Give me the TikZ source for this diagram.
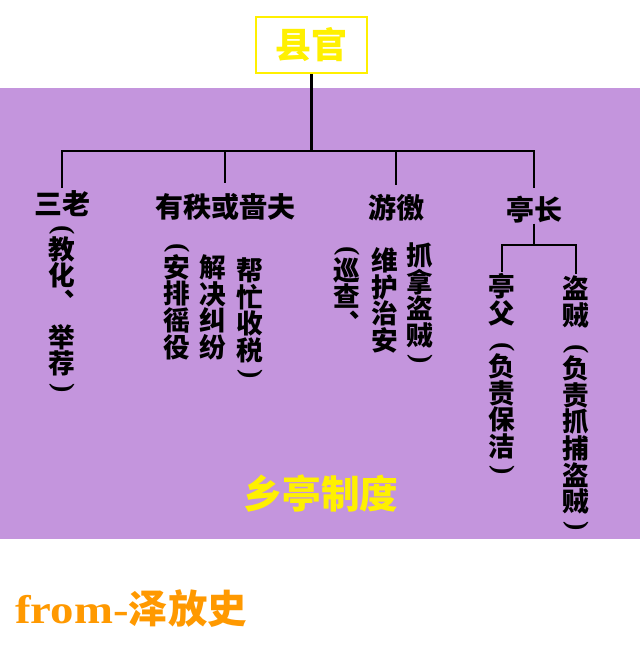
\documentclass[tikz,border=0pt]{standalone}
\usepackage{graphicx}
\usepackage{fontspec}
\newfontfamily\cjk{Noto Sans CJK SC}
\newfontfamily\latinb{Liberation Serif}[FakeStretch=1.17]
\newfontfamily\parenf{Liberation Serif}
\definecolor{bandpurple}{RGB}{196,149,221}
\definecolor{titleyellow}{RGB}{255,240,0}
\definecolor{srcorange}{RGB}{255,153,0}
% vertical parentheses (rotated), opening sits low in its cell, closing sits high
\newcommand\LP{\raisebox{0.27em}{\rotatebox{-90}{\parenf\bfseries\fontsize{21pt}{21pt}\selectfont(}}}
\newcommand\RP{\raisebox{0.65em}{\rotatebox{-90}{\parenf\bfseries\fontsize{21pt}{21pt}\selectfont)}}}
\ExplSyntaxOn
\NewDocumentCommand\vcol{m}{
  \vbox{\offinterlineskip
    \tl_map_inline:nn {#1} { \hbox to 1em {\hss\raisebox{0pt}[0.88em][0.12em]{##1}\hss} }
  }
}
\ExplSyntaxOff
\tikzset{
  conn/.style={line width=1.9pt, black},
  vt/.style={inner sep=0pt, outer sep=0pt, anchor=north, text=black,
    font={\cjk\bfseries\fontsize{20pt}{20pt}\selectfont}},
  head/.style={inner sep=0pt, outer sep=0pt, text=black,
    font={\cjk\bfseries\fontsize{21pt}{21pt}\selectfont}},
  topbox/.style={draw=titleyellow, line width=1.6pt, fill=white, text=titleyellow,
    minimum width=83pt, minimum height=42pt, inner sep=0pt,
    font={\cjk\bfseries\fontsize{27pt}{27pt}\selectfont}},
}
\begin{document}
\begin{tikzpicture}[x=0.75pt, y=-0.75pt]
\path[use as bounding box, fill=white] (0,0) rectangle (640,648);
\fill[bandpurple] (0,88) rectangle (640,539);

% top box
\node[topbox] (xian) at (311.5,45) {县官};

% headings
\node[head] (sanlao) at (62,204) {三老};
\node[head] (youzhi) at (225,207) {有秩或啬夫};
\node[head] (youjiao) at (396,208) {游徼};
\node[head] (tingzhang) at (534,210) {亭长};

% descriptions
\node[vt] (sanlaoD) at (62,209) {\vbox{\offinterlineskip\vcol{\LP 教化︑}\kern6pt\vcol{举荐\RP}}};
\node[vt] (youzhiA) at (177,227) {\vcol{\LP 安排徭役}};
\node[vt] (youzhiB) at (213,254) {\vcol{解决纠纷}};
\node[vt] (youzhiC) at (250,257) {\vcol{帮忙收税\RP}};
\node[vt] (youjiaoA) at (347,230) {\vcol{\LP 巡查︑}};
\node[vt] (youjiaoB) at (385,247) {\vcol{维护治安}};
\node[vt] (youjiaoC) at (420,242) {\vcol{抓拿盗贼\RP}};
\node[vt] (tingfu) at (502,273) {\vcol{亭父\LP 负责保洁\RP}};
\node[vt] (daozei) at (576,275) {\vcol{盗贼\LP 负责抓捕盗贼\RP}};

% connectors
\coordinate (bus) at (311.5,151);
\draw[conn] (xian.south) -- (bus);
\draw[conn, shorten >=2pt] (bus) -| (sanlao.north);
\draw[conn, shorten >=8pt] (bus) -| (youzhi.north);
\draw[conn, shorten >=7pt] (bus) -| (youjiao.north);
\draw[conn, shorten >=6pt] (bus) -| (tingzhang.north);

\coordinate (tbus) at (534,245);
\draw[conn] (tingzhang.south) -- (tbus);
\draw[conn, shorten >=1pt] (tbus) -| (tingfu.north);
\draw[conn, shorten >=1pt] (tbus) -| (daozei.north);

% title and source
\node[inner sep=0pt, text=titleyellow, font={\cjk\bfseries\fontsize{29pt}{29pt}\selectfont}] (title) at (321,494) {乡亭制度};
\node[anchor=base west, inner sep=0pt, text=srcorange] (src) at (15,623)
  {{\latinb\bfseries\fontsize{30pt}{30pt}\selectfont from-}{\cjk\bfseries\fontsize{29.5pt}{29.5pt}\selectfont 泽放史}};
\end{tikzpicture}
\end{document}
